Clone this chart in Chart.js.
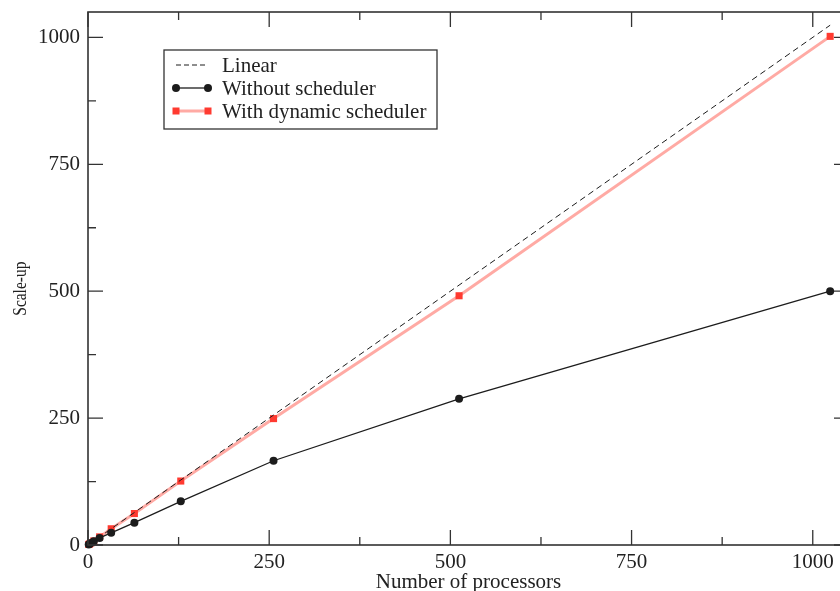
<!DOCTYPE html>
<html>
<head>
<meta charset="utf-8">
<script src="https://cdn.jsdelivr.net/npm/chart.js@4.4.1/dist/chart.umd.min.js"></script>
<style>
  html, body { margin: 0; padding: 0; background: #fff; overflow: hidden; }
  #wrap { width: 840px; height: 591px; overflow: hidden; position: relative; }
  #wrap canvas { position: absolute; left: 0; top: 0; }
</style>
</head>
<body>
<div id="wrap"><canvas id="scaleChart" width="860" height="600"></canvas></div>
<script>
const processors = [1, 2, 4, 8, 16, 32, 64, 128, 256, 512, 1024];
const linear = [1, 2, 4, 8, 16, 32, 64, 128, 256, 512, 1024];
const withoutScheduler = [1, 2, 3.8, 7.5, 14, 24, 44, 86, 166, 288, 500];
const withDynamicScheduler = [1, 2, 4, 8, 16, 32, 62, 126, 249, 491, 1002];
const xTicks = [0, 250, 500, 750, 1000];
const yTicks = [0, 250, 500, 750, 1000];
const yTitle = 'Scale-up';

const SERIF = '"Liberation Serif", "DejaVu Serif", serif';
const RED_LINE = 'rgba(255, 100, 90, 0.55)';
const RED_MARK = '#ff3a30';
const BLACK = '#1c1c1c';

function toPoints(values) {
    return processors.map((p, i) => ({ x: p, y: values[i] }));
}

// frame + inward ticks on all sides (xmgrace style)
const framePlugin = {
    id: 'frame',
    afterDraw(chart) {
        const ctx = chart.ctx;
        const a = chart.chartArea;
        const xs = chart.scales.x, ys = chart.scales.y;
        ctx.save();
        ctx.strokeStyle = '#333';
        ctx.lineWidth = 1.6;
        ctx.strokeRect(a.left, a.top, a.right - a.left, a.bottom - a.top);
        ctx.lineWidth = 1.3;
        ctx.beginPath();
        for (let v = 0; v <= 1050; v += 125) {
            const len = v % 250 === 0 ? 15 : 8;
            const px = xs.getPixelForValue(v);
            ctx.moveTo(px, a.bottom); ctx.lineTo(px, a.bottom - len);
            ctx.moveTo(px, a.top); ctx.lineTo(px, a.top + len);
            const py = ys.getPixelForValue(v);
            ctx.moveTo(a.left, py); ctx.lineTo(a.left + len, py);
            ctx.moveTo(a.right, py); ctx.lineTo(a.right - len, py);
        }
        ctx.stroke();

        // y title, a bit condensed like the original
        ctx.translate(21, ys.getPixelForValue(505));
        ctx.rotate(-Math.PI / 2);
        ctx.scale(0.86, 1);
        ctx.font = '18px ' + SERIF;
        ctx.fillStyle = '#222';
        ctx.textAlign = 'center';
        ctx.textBaseline = 'middle';
        ctx.fillText(yTitle, 0, 0);
        ctx.restore();
    }
};

// legend box inside the plot
const legendPlugin = {
    id: 'boxLegend',
    afterDraw(chart) {
        const ctx = chart.ctx;
        const box = { x: 164, y: 50, w: 273, h: 79 };
        ctx.save();
        ctx.fillStyle = '#fff';
        ctx.fillRect(box.x, box.y, box.w, box.h);
        ctx.strokeStyle = '#333';
        ctx.lineWidth = 1.3;
        ctx.strokeRect(box.x, box.y, box.w, box.h);
        ctx.font = '21px ' + SERIF;
        ctx.textBaseline = 'middle';
        ctx.fillStyle = '#222';
        const rows = [
            { label: 'Linear', y: 65, kind: 'dash' },
            { label: 'Without scheduler', y: 88, kind: 'black' },
            { label: 'With dynamic scheduler', y: 111, kind: 'red' }
        ];
        rows.forEach(r => {
            const x0 = 176, x1 = 208;
            ctx.beginPath();
            if (r.kind === 'dash') {
                ctx.setLineDash([5, 3]);
                ctx.strokeStyle = BLACK;
                ctx.lineWidth = 1;
            } else if (r.kind === 'black') {
                ctx.setLineDash([]);
                ctx.strokeStyle = BLACK;
                ctx.lineWidth = 1.3;
            } else {
                ctx.setLineDash([]);
                ctx.strokeStyle = RED_LINE;
                ctx.lineWidth = 3;
            }
            ctx.moveTo(x0, r.y); ctx.lineTo(x1, r.y);
            ctx.stroke();
            ctx.setLineDash([]);
            if (r.kind === 'black') {
                ctx.fillStyle = BLACK;
                [x0, x1].forEach(x => { ctx.beginPath(); ctx.arc(x, r.y, 4, 0, Math.PI * 2); ctx.fill(); });
            } else if (r.kind === 'red') {
                ctx.fillStyle = RED_MARK;
                [x0, x1].forEach(x => ctx.fillRect(x - 3.5, r.y - 3.5, 7, 7));
            }
            ctx.fillStyle = '#222';
            ctx.fillText(r.label, 222, r.y + 1);
        });
        ctx.restore();
    }
};

new Chart(document.getElementById('scaleChart').getContext('2d'), {
    type: 'line',
    data: {
        datasets: [
            {
                label: 'Linear',
                data: toPoints(linear),
                borderColor: BLACK,
                borderWidth: 1,
                borderDash: [6, 4],
                pointRadius: 0,
                fill: false
            },
            {
                label: 'Without scheduler',
                data: toPoints(withoutScheduler),
                borderColor: BLACK,
                borderWidth: 1.3,
                pointRadius: 4,
                pointBackgroundColor: BLACK,
                pointBorderColor: BLACK,
                pointBorderWidth: 0,
                fill: false,
                clip: false
            },
            {
                label: 'With dynamic scheduler',
                data: toPoints(withDynamicScheduler),
                borderColor: RED_LINE,
                borderWidth: 3,
                pointStyle: 'rect',
                pointRadius: 5,
                pointBackgroundColor: RED_MARK,
                pointBorderColor: RED_MARK,
                pointBorderWidth: 0,
                fill: false,
                clip: false
            }
        ]
    },
    options: {
        responsive: false,
        animation: false,
        layout: { padding: { left: 0, top: 12, right: 11, bottom: 0 } },
        plugins: {
            legend: { display: false },
            tooltip: { enabled: false }
        },
        scales: {
            x: {
                type: 'linear',
                min: 0,
                max: 1050,
                afterFit(scale) {
                    scale.height = 55;
                    scale.paddingLeft = 0;
                    scale.paddingRight = 0;
                },
                afterBuildTicks(scale) { scale.ticks = xTicks.map(v => ({ value: v })); },
                grid: { display: false, drawTicks: false },
                border: { display: false },
                ticks: {
                    padding: 5,
                    color: '#222',
                    font: { family: SERIF, size: 21 },
                    maxRotation: 0,
                    callback: v => String(v)
                },
                title: {
                    display: true,
                    text: 'Number of processors',
                    color: '#222',
                    font: { family: SERIF, size: 21, lineHeight: 1 },
                    padding: { top: 0, bottom: 7 }
                }
            },
            y: {
                type: 'linear',
                min: 0,
                max: 1050,
                afterFit(scale) {
                    scale.width = 88;
                    scale.paddingTop = 0;
                    scale.paddingBottom = 0;
                },
                afterBuildTicks(scale) { scale.ticks = yTicks.map(v => ({ value: v })); },
                grid: { display: false, drawTicks: false },
                border: { display: false },
                ticks: {
                    padding: 8,
                    color: '#222',
                    font: { family: SERIF, size: 21 },
                    callback: v => String(v)
                },
                title: { display: false }
            }
        }
    },
    plugins: [framePlugin, legendPlugin]
});
</script>
</body>
</html>
